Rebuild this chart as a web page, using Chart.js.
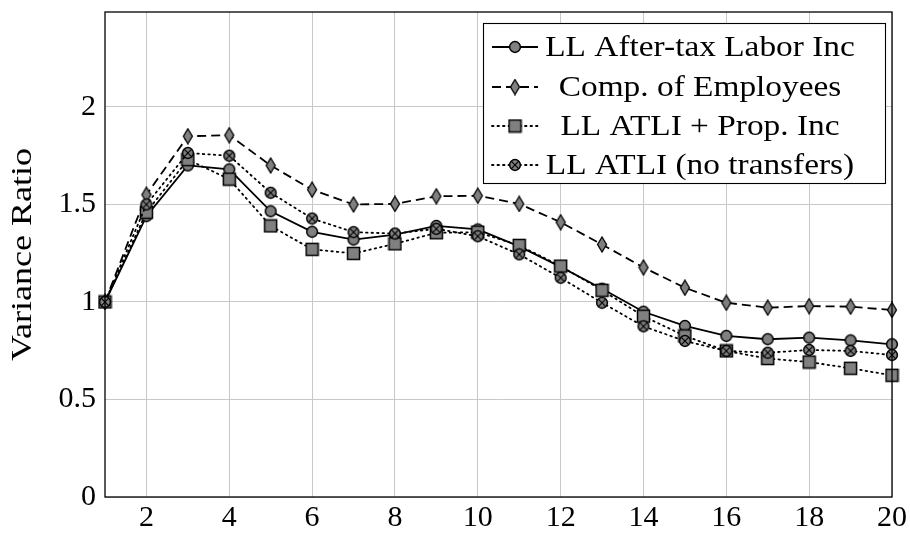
<!DOCTYPE html>
<html><head><meta charset="utf-8">
<script src="https://cdn.jsdelivr.net/npm/chart.js@4/dist/chart.umd.min.js"></script>
<style>html,body{margin:0;padding:0;background:#fff}#wrap{width:910px;height:533px}</style>
</head><body><div id="wrap"><canvas id="c" width="910" height="533"></canvas></div>
<script>
const horizons = [1,2,3,4,5,6,7,8,9,10,11,12,13,14,15,16,17,18,19,20];
const afterTaxLabor = [1,1.44,1.70,1.68,1.465,1.36,1.32,1.345,1.39,1.372,1.285,1.18,1.068,0.95,0.877,0.826,0.809,0.817,0.803,0.783];
const compEmployees = [1,1.55,1.85,1.855,1.70,1.576,1.50,1.503,1.542,1.545,1.503,1.409,1.295,1.177,1.073,0.996,0.971,0.979,0.976,0.959];
const atliProp = [1,1.46,1.73,1.63,1.39,1.27,1.249,1.298,1.355,1.358,1.29,1.184,1.06,0.927,0.826,0.749,0.71,0.692,0.66,0.624];
const atliNoTransfers = [1,1.50,1.764,1.75,1.56,1.428,1.358,1.351,1.375,1.337,1.244,1.124,0.996,0.875,0.80,0.749,0.74,0.754,0.749,0.728];
const xTicks = [2,4,6,8,10,12,14,16,18,20];
const yTicks = [0,0.5,1,1.5,2];
const seriesNames = ['LL After-tax Labor Inc','Comp. of Employees','LL ATLI + Prop. Inc','LL ATLI (no transfers)'];
const yTitle = 'Variance Ratio';

const FONT = '"Liberation Serif", "DejaVu Serif", serif';
const GRAY = '#808080';

function mk(w,h,draw){const c=document.createElement('canvas');c.width=w;c.height=h;const g=c.getContext('2d');draw(g);return c;}
const mCircle = mk(14,14,g=>{g.beginPath();g.arc(7,7,5.4,0,Math.PI*2);g.fillStyle=GRAY;g.fill();g.lineWidth=1.5;g.strokeStyle='#000';g.stroke();});
const mDiamond = mk(12,17,g=>{g.beginPath();g.moveTo(6,1);g.lineTo(10.5,8.5);g.lineTo(6,16);g.lineTo(1.5,8.5);g.closePath();g.fillStyle=GRAY;g.fill();g.lineWidth=1.3;g.strokeStyle='#000';g.stroke();});
const mSquare = mk(15,15,g=>{g.fillStyle=GRAY;g.fillRect(1.5,1.5,12,12);g.lineWidth=1.5;g.strokeStyle='#000';g.strokeRect(1.5,1.5,12,12);});
const mOtimes = mk(14,14,g=>{g.beginPath();g.arc(7,7,5.4,0,Math.PI*2);g.fillStyle=GRAY;g.fill();g.lineWidth=1.5;g.strokeStyle='#000';g.stroke();
  const d=3.8;g.beginPath();g.moveTo(7-d,7-d);g.lineTo(7+d,7+d);g.moveTo(7+d,7-d);g.lineTo(7-d,7+d);g.lineWidth=1.2;g.stroke();});

const styles = [
  {marker:mCircle, dash:[], cap:'butt', order:3},
  {marker:mDiamond, dash:[9,5], cap:'butt', order:2},
  {marker:mSquare, dash:[1.5,4], cap:'round', order:1},
  {marker:mOtimes, dash:[1.5,4], cap:'round', order:0}
];
const seriesData = [afterTaxLabor, compEmployees, atliProp, atliNoTransfers];

const datasets = seriesData.map((arr,i)=>({
  label: seriesNames[i],
  data: horizons.map((h,j)=>({x:h,y:arr[j]})),
  borderColor:'#000', borderWidth:1.8, borderDash:styles[i].dash, borderCapStyle:styles[i].cap,
  pointStyle:styles[i].marker, pointRadius:6, pointHoverRadius:6,
  backgroundColor:GRAY, fill:false, tension:0, clip:false, order:styles[i].order
}));

const frameLegend = {
  id:'frameLegend',
  afterDraw(chart){
    const ctx=chart.ctx, a=chart.chartArea;
    ctx.save();
    ctx.strokeStyle='#000'; ctx.lineWidth=1.3;
    ctx.strokeRect(a.left, a.top, a.right-a.left, a.bottom-a.top);
    // y title
    ctx.save();
    ctx.translate(23, (a.top+a.bottom)/2);
    ctx.rotate(-Math.PI/2);
    ctx.scale(1.2,1);
    ctx.fillStyle='#000'; ctx.font='30px '+FONT; ctx.textAlign='center'; ctx.textBaseline='middle';
    ctx.fillText(yTitle,0,0);
    ctx.restore();
    // legend box
    const bx=483, by=23, bw=402, bh=160;
    ctx.fillStyle='#fff'; ctx.fillRect(bx,by,bw,bh);
    ctx.lineWidth=1.1; ctx.strokeRect(bx+0.5,by+0.5,bw,bh);
    const rows=[47,87,126,165];
    seriesNames.forEach((name,i)=>{
      const y=rows[i];
      ctx.save();
      ctx.beginPath(); ctx.setLineDash(styles[i].dash); ctx.lineCap=styles[i].cap;
      ctx.lineWidth=1.8; ctx.strokeStyle='#000';
      ctx.moveTo(492,y); ctx.lineTo(538,y); ctx.stroke();
      ctx.restore();
      const m=styles[i].marker;
      ctx.drawImage(m, 515-m.width/2, y-m.height/2);
      ctx.save();
      ctx.translate(700, y+1); ctx.scale(1.15,1);
      ctx.fillStyle='#000'; ctx.font='29px '+FONT; ctx.textAlign='center'; ctx.textBaseline='middle';
      ctx.fillText(name, 0, 0);
      ctx.restore();
    });
    ctx.restore();
  }
};

new Chart(document.getElementById('c'), {
  type:'line',
  data:{datasets},
  options:{
    responsive:false, animation:false, devicePixelRatio:1,
    layout:{padding:{left:0,top:12,right:18,bottom:0}},
    plugins:{legend:{display:false}, tooltip:{enabled:false}},
    scales:{
      x:{type:'linear', min:1, max:20,
        afterBuildTicks(s){s.ticks=xTicks.map(v=>({value:v}));},
        afterFit(s){s.height=36; s.paddingLeft=0; s.paddingRight=0;},
        grid:{color:'#c8c8c8', lineWidth:1, drawTicks:false},
        border:{display:false},
        ticks:{color:'#000', font:{family:FONT,size:30}, padding:3, maxRotation:0, autoSkip:false}
      },
      y:{type:'linear', min:0, max:2.487,
        afterBuildTicks(s){s.ticks=yTicks.map(v=>({value:v}));},
        afterFit(s){s.width=105; s.paddingTop=0; s.paddingBottom=0;},
        grid:{color:'#c8c8c8', lineWidth:1, drawTicks:false},
        border:{display:false},
        ticks:{color:'#000', font:{family:FONT,size:30}, padding:9, callback:v=>String(v)}
      }
    }
  },
  plugins:[frameLegend]
});
</script></body></html>
